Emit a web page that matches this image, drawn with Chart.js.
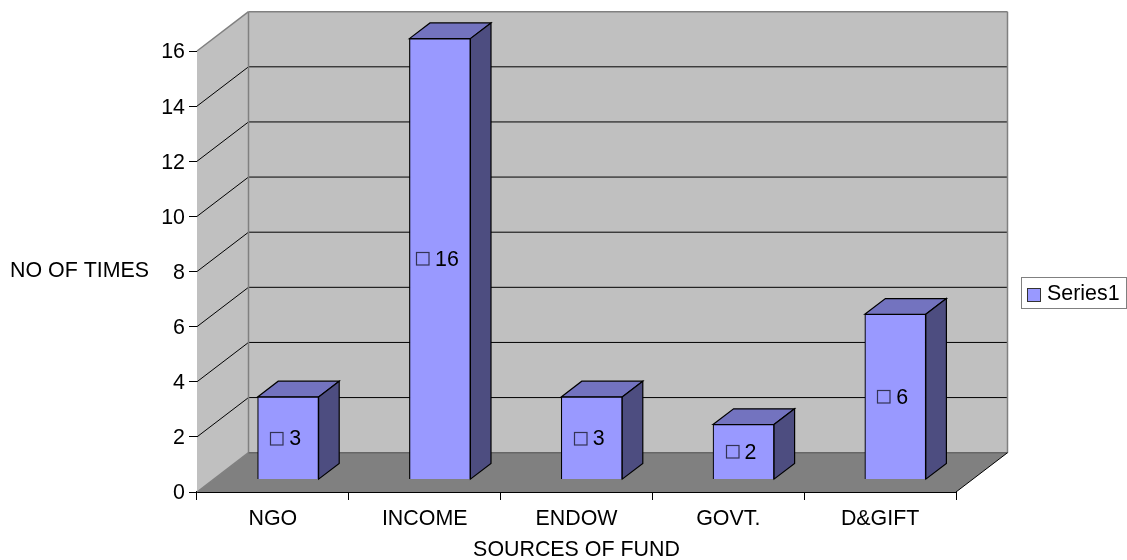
<!DOCTYPE html>
<html lang="en">
<head>
<meta charset="UTF-8">
<title>Sources of fund</title>
<script src="https://cdn.jsdelivr.net/npm/chart.js"></script>
<style>
    html, body { margin: 0; padding: 0; background: #fff; }
    #wrap { width: 1127px; height: 560px; }
</style>
</head>
<body>
<div id="wrap"><canvas id="chart" width="1127" height="560"></canvas></div>
<script>
const categories = ['NGO', 'INCOME', 'ENDOW', 'GOVT.', 'D&GIFT'];
const seriesName = 'Series1';
const values = [3, 16, 3, 2, 6];
const yTitle = 'NO OF TIMES';
const xTitle = 'SOURCES OF FUND';

const FONT = '"Liberation Sans", Arial, sans-serif';
const FONT_SIZE = 21.4;
const WALL = '#c0c0c0', FLOOR = '#808080', EDGE = '#808080';
const BAR = '#9999ff', BAR_TOP = '#7373bf', BAR_SIDE = '#4d4d80';

// depth of the box, and where the bars sit inside it
const DEPTH_X = 51.5, DEPTH_Y = 39.3;
const BAR_FRONT = 0.315, BAR_BACK = 0.715;
const BAR_SHIFT = 15.2;

const threeD = {
    id: 'threeD',
    afterLayout(chart) {
        // y tick labels sit a touch lower than chart.js puts them
        const y = chart.scales.y;
        y.drawLabels = function (area) {
            this.ctx.save();
            this.ctx.translate(0, 1.5);
            Chart.Scale.prototype.drawLabels.call(this, area);
            this.ctx.restore();
        };
    },
    beforeDatasetsDraw(chart) {
        const { ctx, chartArea: a, scales: { y } } = chart;
        const poly = (pts, fill, stroke, lw) => {
            ctx.beginPath();
            pts.forEach((p, i) => i ? ctx.lineTo(p[0], p[1]) : ctx.moveTo(p[0], p[1]));
            ctx.closePath();
            if (fill) { ctx.fillStyle = fill; ctx.fill(); }
            if (stroke) { ctx.strokeStyle = stroke; ctx.lineWidth = lw || 1; ctx.stroke(); }
        };
        const line = (x1, y1, x2, y2, color, lw) => {
            ctx.beginPath();
            ctx.moveTo(x1, y1);
            ctx.lineTo(x2, y2);
            ctx.strokeStyle = color;
            ctx.lineWidth = lw;
            ctx.stroke();
        };
        const bl = a.left + DEPTH_X, br = a.right + DEPTH_X;
        const top = a.top - DEPTH_Y, bottom = a.bottom - DEPTH_Y;
        ctx.save();
        poly([[a.left, a.top], [bl, top], [bl, bottom], [a.left, a.bottom]], WALL);
        poly([[bl, top], [br, top], [br, bottom], [bl, bottom]], WALL);
        poly([[a.left, a.bottom], [bl, bottom], [br, bottom], [a.right, a.bottom]], FLOOR);
        y.ticks.forEach(t => {
            if (t.value === 0 || t.value === 16) return;
            const py = y.getPixelForValue(t.value);
            line(a.left, py, bl, py - DEPTH_Y, '#000', 1);
            line(bl, py - DEPTH_Y, br, py - DEPTH_Y, '#000', 1);
        });
        line(a.left, a.top, bl, top, EDGE, 1.5);
        line(bl, top, br, top, EDGE, 1.5);
        line(br, top, br, bottom, EDGE, 1.5);
        line(bl, top, bl, bottom, EDGE, 1.5);
        line(a.left, a.bottom, bl, bottom, EDGE, 1.5);
        line(bl, bottom, br, bottom, '#666', 1.5);
        line(a.right, a.bottom, br, bottom, '#000', 1);

        // top and side faces of the bars
        const fx = BAR_SHIFT, fy = -BAR_FRONT * DEPTH_Y;
        const ox = (BAR_BACK - BAR_FRONT) * DEPTH_X, oy = -(BAR_BACK - BAR_FRONT) * DEPTH_Y;
        chart.getDatasetMeta(0).data.forEach(b => {
            const l = b.x - b.width / 2 + fx, r = b.x + b.width / 2 + fx;
            const t = b.y + fy, u = b.base + fy;
            poly([[l, t], [l + ox, t + oy], [r + ox, t + oy], [r, t]], BAR_TOP, '#000', 1.2);
            poly([[r, t], [r + ox, t + oy], [r + ox, u + oy], [r, u]], BAR_SIDE, '#000', 1.2);
        });
        ctx.restore();
    },
    beforeDatasetDraw(chart) {
        chart.ctx.save();
        chart.ctx.translate(BAR_SHIFT, -BAR_FRONT * DEPTH_Y);
    },
    afterDatasetDraw(chart) {
        chart.ctx.restore();
    },
    afterDatasetsDraw(chart) {
        const { ctx } = chart;
        ctx.save();
        ctx.font = FONT_SIZE + 'px ' + FONT;
        ctx.fillStyle = '#000';
        ctx.textBaseline = 'middle';

        // value labels with their little key box
        chart.getDatasetMeta(0).data.forEach((b, i) => {
            const cx = b.x + BAR_SHIFT;
            const cy = (b.y + b.base) / 2 - BAR_FRONT * DEPTH_Y;
            const txt = String(values[i]);
            const w = ctx.measureText(txt).width;
            const sx = cx - (20 + w) / 2 - 3;
            ctx.strokeStyle = '#333355';
            ctx.lineWidth = 1.2;
            ctx.strokeRect(Math.round(sx) + 1.5, Math.round(cy - 6.5) + 0.5, 12.5, 12.5);
            ctx.textAlign = 'left';
            ctx.fillStyle = '#000';
            ctx.fillText(txt, sx + 20, cy + 1);
        });

        // horizontal y axis title
        ctx.textAlign = 'left';
        ctx.fillText(yTitle, 10, 271);

        // legend
        ctx.fillStyle = '#fff';
        ctx.strokeStyle = '#808080';
        ctx.lineWidth = 1;
        ctx.fillRect(1021.5, 277.5, 105, 31);
        ctx.strokeRect(1021.5, 277.5, 105, 31);
        ctx.fillStyle = BAR;
        ctx.strokeStyle = '#333';
        ctx.fillRect(1027.5, 288.5, 13, 13);
        ctx.strokeRect(1027.5, 288.5, 13, 13);
        ctx.fillStyle = '#000';
        ctx.fillText(seriesName, 1047, 294);
        ctx.restore();
    }
};

new Chart(document.getElementById('chart'), {
    type: 'bar',
    data: {
        labels: categories,
        datasets: [{
            label: seriesName,
            data: values,
            backgroundColor: BAR,
            borderColor: '#000',
            borderWidth: 1.2,
            barThickness: 61,
            clip: false
        }]
    },
    options: {
        responsive: false,
        animation: false,
        layout: { padding: { top: 51, right: 171, bottom: 0, left: 0 } },
        plugins: { legend: { display: false }, tooltip: { enabled: false } },
        scales: {
            x: {
                afterFit(s) { s.height = 68; },
                border: { color: '#000', width: 2 },
                grid: { offset: true, drawOnChartArea: false, drawTicks: true, tickLength: 8, color: '#000' },
                ticks: { color: '#000', font: { family: FONT, size: FONT_SIZE }, maxRotation: 0, padding: 6 },
                title: { display: true, text: xTitle, color: '#000', font: { family: FONT, size: FONT_SIZE, lineHeight: 1 }, padding: { top: 4, bottom: -1 } }
            },
            y: {
                min: 0,
                max: 16,
                afterFit(s) { s.width = 197; },
                border: { color: '#000', width: 1 },
                grid: { drawOnChartArea: false, drawTicks: true, tickLength: 8, color: '#000' },
                ticks: { stepSize: 2, color: '#000', font: { family: FONT, size: FONT_SIZE }, padding: 4 }
            }
        }
    },
    plugins: [threeD]
});
</script>
</body>
</html>
